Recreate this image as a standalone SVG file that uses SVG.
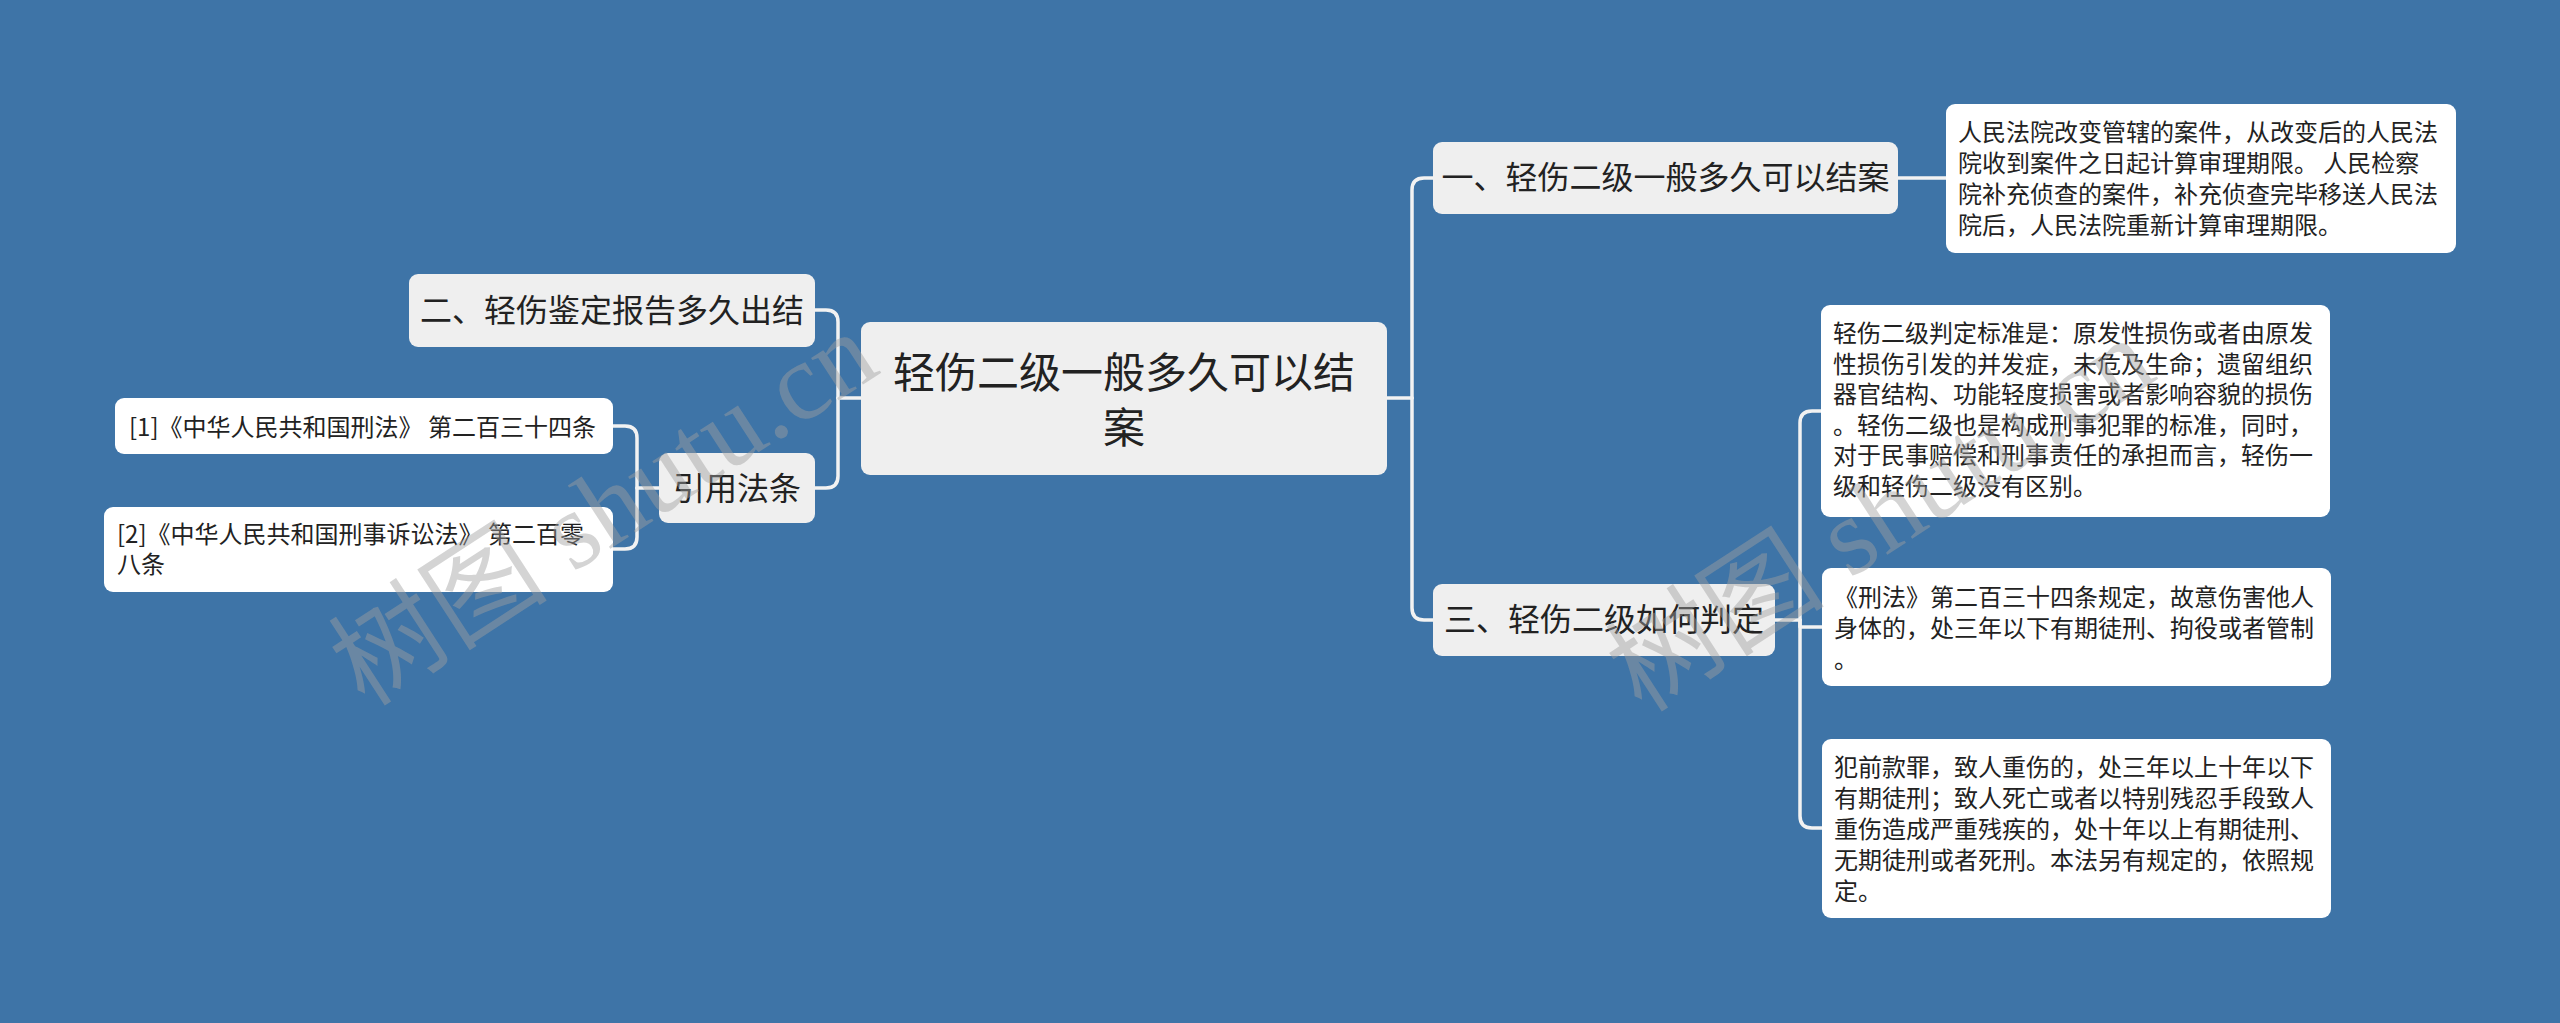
<svg xmlns="http://www.w3.org/2000/svg" width="2560" height="1023" viewBox="0 0 2560 1023">
<style>
.bg{fill:#3e74a7}
.main{fill:#efefef}
.leaf{fill:#ffffff}
.t{font-family:"Noto Sans CJK SC","Microsoft YaHei",sans-serif;fill:#222222}
.c{text-anchor:middle}
.f42{font-size:42px}
.f32{font-size:32px}
.f24{font-size:24px}
.ln{fill:none;stroke:#f2f2f2;stroke-width:3.5;stroke-linecap:round;stroke-linejoin:round}
.wm{font-family:"Liberation Serif","Noto Sans CJK SC",serif;font-size:110px;fill:#a0a0a0;fill-opacity:0.45}
</style>
<rect class="bg" x="0" y="0" width="2560" height="1023"/>

<g id="connectors">
  <path class="ln" d="M1387,398 H1412"/>
  <path class="ln" d="M1412,398 V190 Q1412,178 1424,178 H1433"/>
  <path class="ln" d="M1412,398 V608 Q1412,620 1424,620 H1433"/>
  <path class="ln" d="M1898,178 H1946"/>
  <path class="ln" d="M1775,620 H1800"/>
  <path class="ln" d="M1800,620 V423 Q1800,411 1812,411 H1821"/>
  <path class="ln" d="M1800,620 V627 H1822"/>
  <path class="ln" d="M1800,620 V816 Q1800,828 1812,828 H1822"/>
  <path class="ln" d="M861,398 H838"/>
  <path class="ln" d="M838,398 V322 Q838,310 826,310 H815"/>
  <path class="ln" d="M838,398 V476 Q838,488 826,488 H815"/>
  <path class="ln" d="M659,488 H637"/>
  <path class="ln" d="M637,488 V438 Q637,426 625,426 H613"/>
  <path class="ln" d="M637,488 V537 Q637,549 625,549 H613"/>
</g>

<g id="root">
  <rect class="main" x="861" y="322" width="526" height="153" rx="9"/>
  <text class="t c f42" x="1124" y="388">轻伤二级一般多久可以结</text>
  <text class="t c f42" x="1124" y="443">案</text>
</g>

<g id="n1">
  <rect class="main" x="1433" y="142" width="465" height="72" rx="9"/>
  <text class="t c f32" x="1665.5" y="189">一、轻伤二级一般多久可以结案</text>
</g>

<g id="n1a">
  <rect class="leaf" x="1946" y="104" width="510" height="149" rx="9"/>
  <text class="t f24" x="1958" y="141">人民法院改变管辖的案件，从改变后的人民法</text>
  <text class="t f24" x="1958" y="172">院收到案件之日起计算审理期限。 人民检察</text>
  <text class="t f24" x="1958" y="203">院补充侦查的案件，补充侦查完毕移送人民法</text>
  <text class="t f24" x="1958" y="234">院后，人民法院重新计算审理期限。</text>
</g>

<g id="n3">
  <rect class="main" x="1433" y="584" width="342" height="72" rx="9"/>
  <text class="t c f32" x="1604" y="631">三、轻伤二级如何判定</text>
</g>

<g id="n3a">
  <rect class="leaf" x="1821" y="305" width="509" height="212" rx="9"/>
  <text class="t f24" x="1833" y="342">轻伤二级判定标准是：原发性损伤或者由原发</text>
  <text class="t f24" x="1833" y="372.5">性损伤引发的并发症，未危及生命；遗留组织</text>
  <text class="t f24" x="1833" y="403">器官结构、功能轻度损害或者影响容貌的损伤</text>
  <text class="t f24" x="1833" y="433.5">。轻伤二级也是构成刑事犯罪的标准，同时，</text>
  <text class="t f24" x="1833" y="464">对于民事赔偿和刑事责任的承担而言，轻伤一</text>
  <text class="t f24" x="1833" y="494.5">级和轻伤二级没有区别。</text>
</g>

<g id="n3b">
  <rect class="leaf" x="1822" y="568" width="509" height="118" rx="9"/>
  <text class="t f24" x="1834" y="606">《刑法》第二百三十四条规定，故意伤害他人</text>
  <text class="t f24" x="1834" y="637">身体的，处三年以下有期徒刑、拘役或者管制</text>
  <text class="t f24" x="1834" y="668">。</text>
</g>

<g id="n3c">
  <rect class="leaf" x="1822" y="739" width="509" height="179" rx="9"/>
  <text class="t f24" x="1834" y="776">犯前款罪，致人重伤的，处三年以上十年以下</text>
  <text class="t f24" x="1834" y="807">有期徒刑；致人死亡或者以特别残忍手段致人</text>
  <text class="t f24" x="1834" y="838">重伤造成严重残疾的，处十年以上有期徒刑、</text>
  <text class="t f24" x="1834" y="869">无期徒刑或者死刑。本法另有规定的，依照规</text>
  <text class="t f24" x="1834" y="900">定。</text>
</g>

<g id="n2">
  <rect class="main" x="409" y="274" width="406" height="73" rx="9"/>
  <text class="t c f32" x="612" y="322">二、轻伤鉴定报告多久出结</text>
</g>

<g id="n4">
  <rect class="main" x="659" y="453" width="156" height="70" rx="9"/>
  <text class="t c f32" x="737" y="500">引用法条</text>
</g>

<g id="n4a">
  <rect class="leaf" x="115" y="398" width="498" height="56" rx="9"/>
  <text class="t f24" x="129" y="436">[1]《中华人民共和国刑法》 第二百三十四条</text>
</g>

<g id="n4b">
  <rect class="leaf" x="104" y="507" width="509" height="85" rx="9"/>
  <text class="t f24" x="117" y="543">[2]《中华人民共和国刑事诉讼法》 第二百零</text>
  <text class="t f24" x="117" y="573">八条</text>
</g>

<g id="watermark">
  <text class="wm" x="365" y="708" transform="rotate(-33 365 708)">树图 shutu.cn</text>
  <text class="wm" x="1642" y="714" transform="rotate(-33 1642 714)">树图 shutu.cn</text>
</g>
</svg>
